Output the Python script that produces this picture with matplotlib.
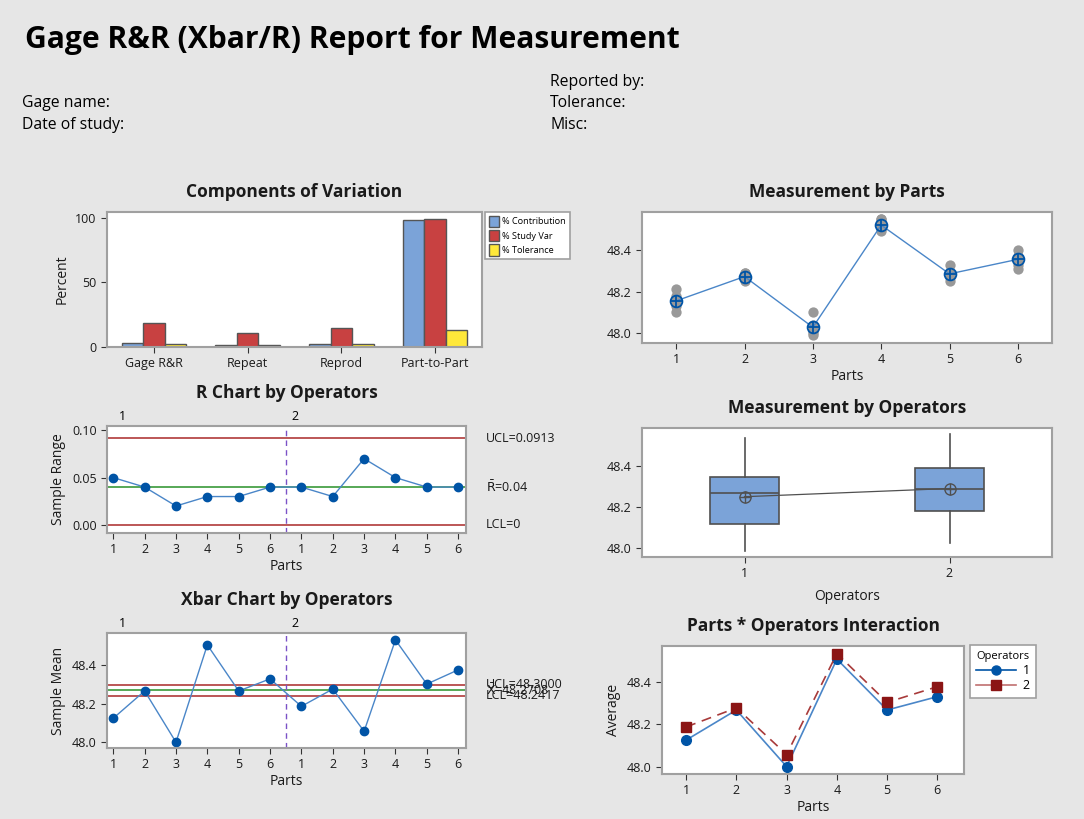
import matplotlib
matplotlib.use("Agg")
import matplotlib.pyplot as plt
from matplotlib.lines import Line2D
import numpy as np

plt.rcParams['font.family'] = ['Open Sans', 'DejaVu Sans']

# ---- data ----
components = ['Gage R&R', 'Repeat', 'Reprod', 'Part-to-Part']
pct_contribution = [3.3, 1.3, 2.2, 98.0]
pct_study_var = [18.2, 11.2, 14.8, 99.2]
pct_tolerance = [2.6, 1.5, 2.3, 13.0]

parts = [1, 2, 3, 4, 5, 6]
operators = ['1', '2']

range_op1 = [0.05, 0.04, 0.02, 0.03, 0.03, 0.04]
range_op2 = [0.04, 0.03, 0.07, 0.05, 0.04, 0.04]
r_ucl, r_bar, r_lcl = 0.0913, 0.04, 0.0

mean_op1 = [48.125, 48.267, 48.000, 48.507, 48.267, 48.330]
mean_op2 = [48.187, 48.277, 48.057, 48.533, 48.303, 48.377]
x_ucl, x_bar, x_lcl = 48.3000, 48.2708, 48.2417

# individual measurements per part (3 trials per operator)
meas_op1 = [[48.10, 48.13, 48.15], [48.25, 48.27, 48.29], [47.99, 48.00, 48.01],
            [48.49, 48.51, 48.52], [48.25, 48.27, 48.28], [48.31, 48.33, 48.35]]
meas_op2 = [[48.17, 48.18, 48.21], [48.26, 48.28, 48.29], [48.03, 48.04, 48.10],
            [48.50, 48.55, 48.55], [48.29, 48.29, 48.33], [48.36, 48.37, 48.40]]
part_means = [48.155, 48.272, 48.028, 48.520, 48.285, 48.355]

# box plot stats by operator
box_lo = [47.987, 48.024]
box_q1 = [48.119, 48.181]
box_med = [48.268, 48.289]
box_q3 = [48.346, 48.389]
box_hi = [48.535, 48.555]
box_mean = [48.250, 48.290]

# ---- styling ----
BG = '#e6e6e6'
BLUE = '#0054a6'
LBLUE = '#4a86c8'
RED = '#b03a3a'
GREEN = '#3a9a3a'
SPINE = '#a0a0a0'
TXT = '#1a1a1a'
TICK = 9

fig = plt.figure(figsize=(10.84, 8.19), dpi=100, facecolor=BG)
W, H = 1084, 819


def box(l, t, r, b):
    return [l / W, 1 - b / H, (r - l) / W, (b - t) / H]


def style(ax):
    ax.set_facecolor('white')
    for s in ax.spines.values():
        s.set_color(SPINE)
        s.set_linewidth(1.5)
    ax.tick_params(labelsize=TICK, colors='#333333', labelcolor=TXT, length=4, width=0.8)


def title(ax, text, pad=11):
    ax.set_title(text, fontsize=12.5, fontweight='bold', color=TXT, pad=pad)


# header
fig.text(25 / W, 1 - 40 / H, 'Gage R&R (Xbar/R) Report for Measurement', fontsize=21.6,
         fontweight='bold', va='center', ha='left', color='black')
for lbl, y in [('Gage name:', 103), ('Date of study:', 125)]:
    fig.text(22 / W, 1 - y / H, lbl, fontsize=11.3, va='center', color='black')
for lbl, y in [('Reported by:', 82), ('Tolerance:', 103), ('Misc:', 125)]:
    fig.text(550 / W, 1 - y / H, lbl, fontsize=11.3, va='center', color='black')

# ---- Components of Variation ----
ax1 = fig.add_axes(box(107, 212, 482, 347))
style(ax1)
xc = np.arange(len(components))
bw = 0.23
ax1.bar(xc - bw, pct_contribution, bw, color='#7ba3d8', edgecolor='#555555', lw=1, label='% Contribution')
ax1.bar(xc, pct_study_var, bw, color='#c84141', edgecolor='#555555', lw=1, label='% Study Var')
ax1.bar(xc + bw, pct_tolerance, bw, color='#ffe83a', edgecolor='#555555', lw=1, label='% Tolerance')
ax1.set_xticks(xc)
ax1.set_xticklabels(components)
ax1.set_yticks([0, 50, 100])
ax1.set_ylim(0, 104.5)
ax1.set_xlim(-0.5, 3.5)
ax1.set_ylabel('Percent', fontsize=10, color=TXT)
title(ax1, 'Components of Variation')
leg = ax1.legend(loc='upper left', bbox_to_anchor=(485 / W, 1 - 212 / H), bbox_transform=fig.transFigure,
                 fontsize=6.6, fancybox=False, edgecolor=SPINE, framealpha=1, handlelength=1.1,
                 handleheight=1.5, borderpad=0.4, labelspacing=0.35, handletextpad=0.4,
                 borderaxespad=0)
leg.get_frame().set_linewidth(1.2)

# ---- R chart ----
x12 = np.arange(1, 13)
ax2 = fig.add_axes(box(107, 426, 466, 533))
style(ax2)
ax2.axhline(r_ucl, color=RED, lw=1.2)
ax2.axhline(r_bar, color=GREEN, lw=1.2)
ax2.axhline(r_lcl, color=RED, lw=1.2)
ax2.axvline(6.5, color='#7b52c7', lw=1, ls=(0, (4, 3)))
ax2.plot(x12, range_op1 + range_op2, color=LBLUE, lw=1, marker='o', ms=6,
         mfc=BLUE, mec=BLUE)
ax2.set_xlim(0.8, 12.25)
ax2.set_ylim(-0.0085, 0.1045)
ax2.set_yticks([0.0, 0.05, 0.10])
ax2.set_yticklabels(['0.00', '0.05', '0.10'])
ax2.set_xticks(x12)
ax2.set_xticklabels(parts + parts)
ax2.set_xlabel('Parts', fontsize=10, color=TXT, labelpad=2)
ax2.set_ylabel('Sample Range', fontsize=10, color=TXT)
title(ax2, 'R Chart by Operators', pad=20)
ax2.text(1.3, 1.03, '1', transform=ax2.get_xaxis_transform(), fontsize=TICK, ha='center', va='bottom')
ax2.text(6.8, 1.03, '2', transform=ax2.get_xaxis_transform(), fontsize=TICK, ha='center', va='bottom')
tr = ax2.get_yaxis_transform()
ax2.text(1.055, r_ucl, 'UCL=0.0913', transform=tr, fontsize=TICK, va='center', color=TXT)
ax2.text(1.055, r_bar, r'$\bar{\mathrm{R}}$=0.04', transform=tr, fontsize=TICK, va='center', color=TXT)
ax2.text(1.055, r_lcl, 'LCL=0', transform=tr, fontsize=TICK, va='center', color=TXT)

# ---- Xbar chart ----
ax3 = fig.add_axes(box(107, 633, 466, 748))
style(ax3)
ax3.axhline(x_ucl, color=RED, lw=1.2)
ax3.axhline(x_bar, color=GREEN, lw=1.2)
ax3.axhline(x_lcl, color=RED, lw=1.2)
ax3.axvline(6.5, color='#7b52c7', lw=1, ls=(0, (4, 3)))
ax3.plot(x12, mean_op1 + mean_op2, color=LBLUE, lw=1, marker='o', ms=6,
         mfc=BLUE, mec=BLUE)
ax3.set_xlim(0.8, 12.25)
ax3.set_ylim(47.97, 48.569)
ax3.set_yticks([48.0, 48.2, 48.4])
ax3.set_xticks(x12)
ax3.set_xticklabels(parts + parts)
ax3.set_xlabel('Parts', fontsize=10, color=TXT, labelpad=2)
ax3.set_ylabel('Sample Mean', fontsize=10, color=TXT)
title(ax3, 'Xbar Chart by Operators', pad=20)
ax3.text(1.3, 1.03, '1', transform=ax3.get_xaxis_transform(), fontsize=TICK, ha='center', va='bottom')
ax3.text(6.8, 1.03, '2', transform=ax3.get_xaxis_transform(), fontsize=TICK, ha='center', va='bottom')
tr = ax3.get_yaxis_transform()
# the three limit labels sit on top of each other, as in the original report
ax3.text(1.055, x_ucl, 'UCL=48.3000', transform=tr, fontsize=TICK, va='center', color=TXT)
ax3.text(1.055, x_bar, r'$\bar{\mathrm{X}}$=48.2708', transform=tr, fontsize=TICK, va='center', color=TXT)
ax3.text(1.055, x_lcl, 'LCL=48.2417', transform=tr, fontsize=TICK, va='center', color=TXT)

# ---- Measurement by Parts ----
ax4 = fig.add_axes(box(642, 212, 1052, 343))
style(ax4)
for p, a, b in zip(parts, meas_op1, meas_op2):
    vals = a + b
    ax4.scatter([p] * len(vals), vals, s=55, color='#999999', zorder=2, lw=0)
ax4.plot(parts, part_means, color=LBLUE, lw=1, zorder=3)
ax4.plot(parts, part_means, ls='none', marker='o', ms=8.5, mfc='none', mec=BLUE, mew=1.3, zorder=4)
ax4.plot(parts, part_means, ls='none', marker='+', ms=8.5, mec=BLUE, mew=1.3, zorder=4)
ax4.set_xlim(0.5, 6.5)
ax4.set_ylim(47.952, 48.583)
ax4.set_yticks([48.0, 48.2, 48.4])
ax4.set_xticks(parts)
ax4.set_xlabel('Parts', fontsize=10, color=TXT, labelpad=2)
title(ax4, 'Measurement by Parts')

# ---- Measurement by Operators ----
ax5 = fig.add_axes(box(642, 428, 1052, 557))
style(ax5)
stats = []
for i, op in enumerate(operators):
    stats.append(dict(label=op, whislo=box_lo[i], q1=box_q1[i], med=box_med[i],
                      q3=box_q3[i], whishi=box_hi[i], mean=box_mean[i]))
ax5.bxp(stats, positions=[1, 2], widths=0.335, showcaps=False, showfliers=False,
        patch_artist=True,
        boxprops=dict(facecolor='#7ba3d8', edgecolor='#505050', lw=1.2),
        medianprops=dict(color='#505050', lw=1.2),
        whiskerprops=dict(color='#505050', lw=1.2))
ax5.plot([1, 2], box_mean, color='#505050', lw=0.9)
ax5.plot([1, 2], box_mean, ls='none', marker='o', ms=8, mfc='none', mec='#505050', mew=1)
ax5.plot([1, 2], box_mean, ls='none', marker='+', ms=8, mec='#505050', mew=1)
ax5.set_xlim(0.5, 2.5)
ax5.set_ylim(47.956, 48.585)
ax5.set_yticks([48.0, 48.2, 48.4])
ax5.set_xticks([1, 2])
ax5.set_xticklabels(operators)
ax5.set_xlabel('Operators', fontsize=10, color=TXT, labelpad=6)
title(ax5, 'Measurement by Operators')

# ---- Interaction ----
ax6 = fig.add_axes(box(662, 646, 964, 774))
style(ax6)
ax6.plot(parts, mean_op1, color=LBLUE, lw=1.2, marker='o', ms=7, mfc=BLUE, mec=BLUE, label='1')
ax6.plot(parts, mean_op2, color='#a83a3a', lw=1.2, ls=(0, (6, 4)), marker='s', ms=7,
         mfc='#8b1515', mec='#8b1515', label='2')
ax6.set_xlim(0.52, 6.53)
ax6.set_ylim(47.965, 48.569)
ax6.set_yticks([48.0, 48.2, 48.4])
ax6.set_xticks(parts)
ax6.set_xlabel('Parts', fontsize=10, color=TXT, labelpad=2)
ax6.set_ylabel('Average', fontsize=10, color=TXT)
title(ax6, 'Parts * Operators Interaction')
handles = [Line2D([], [], color=BLUE, lw=1.2, marker='o', ms=6.5),
           Line2D([], [], color='#c07070', lw=1.2, marker='s', ms=6.5, mfc='#8b1515', mec='#8b1515')]
leg2 = ax6.legend(handles, operators, title='Operators', loc='upper left',
                  bbox_to_anchor=(970 / W, 1 - 645 / H), bbox_transform=fig.transFigure,
                  fontsize=9, title_fontsize=8, fancybox=False, edgecolor=SPINE, framealpha=1,
                  handlelength=3.2, borderpad=0.5, labelspacing=0.15, alignment='right',
                  borderaxespad=0, handletextpad=0.5)
leg2.get_frame().set_linewidth(1.2)

fig.savefig('out.png', dpi=100, facecolor=BG)
